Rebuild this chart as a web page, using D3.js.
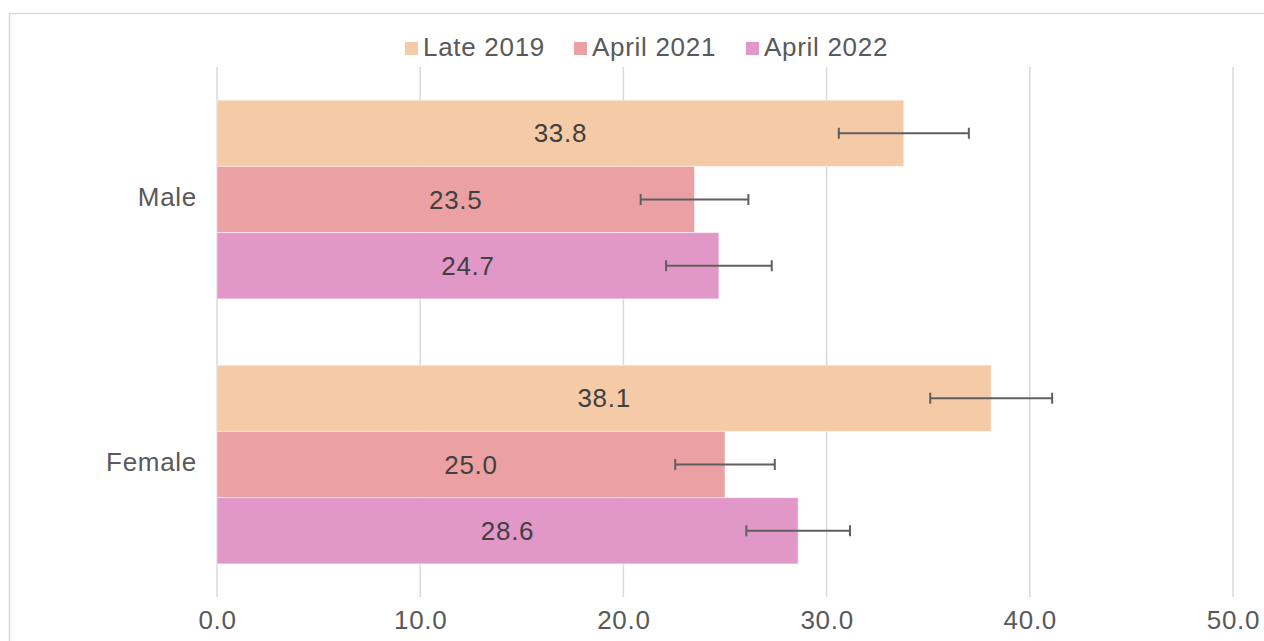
<!DOCTYPE html>
<html>
<head>
<meta charset="utf-8">
<script src="https://cdn.jsdelivr.net/npm/d3@7"></script>
<style>
  html, body { margin: 0; padding: 0; background: #fff; }
  svg { display: block; }
  text { font-family: "Liberation Sans", Arial, Helvetica, sans-serif; letter-spacing: 0.7px; }
</style>
</head>
<body>
<svg id="chart" width="1264" height="641"></svg>
<script>
const categories = ["Male", "Female"];
const seriesNames = ["Late 2019", "April 2021", "April 2022"];
const seriesColors = ["#F5CBA7", "#EBA1A4", "#E197C8"];
const late2019 = [33.8, 38.1];
const april2021 = [23.5, 25.0];
const april2022 = [24.7, 28.6];
const late2019Err = [3.2, 3.0];
const april2021Err = [2.65, 2.45];
const april2022Err = [2.6, 2.55];
const xTicks = [0, 10, 20, 30, 40, 50];

const seriesValues = [late2019, april2021, april2022];
const seriesErr = [late2019Err, april2021Err, april2022Err];

const svg = d3.select("#chart");
const textColor = "#595959";
const fontSize = 26;

// outer frame
svg.append("rect")
  .attr("x", 9.5).attr("y", 13.5)
  .attr("width", 1300).attr("height", 700)
  .attr("fill", "none").attr("stroke", "#d9d9d9").attr("stroke-width", 1.5);

const x = d3.scaleLinear().domain([0, 50]).range([217, 1233]);
const y = d3.scaleBand().domain(categories).range([67, 597])
  .paddingInner(0.25).paddingOuter(0.125);
const ySub = d3.scaleBand().domain(seriesNames).range([0, y.bandwidth()]);

// gridlines
svg.append("g").selectAll("line").data(xTicks).join("line")
  .attr("x1", d => x(d)).attr("x2", d => x(d))
  .attr("y1", 67).attr("y2", 597)
  .attr("stroke", "#d9d9d9").attr("stroke-width", 1.5);

// x axis labels
const xAxis = d3.axisBottom(x).tickValues(xTicks).tickFormat(d3.format(".1f")).tickSize(0).tickPadding(0);
const gx = svg.append("g").attr("transform", "translate(0,597)").call(xAxis);
gx.select(".domain").remove();
gx.selectAll("text")
  .attr("y", 32).attr("dy", "0")
  .attr("fill", textColor).attr("font-size", fontSize)
  .attr("font-family", "Liberation Sans, Arial, sans-serif");

// y axis labels
const yAxis = d3.axisLeft(y).tickSize(0).tickPadding(20);
const gy = svg.append("g").attr("transform", "translate(217,0)").call(yAxis);
gy.select(".domain").remove();
gy.selectAll("text")
  .attr("y", -2)
  .attr("fill", textColor).attr("font-size", fontSize)
  .attr("font-family", "Liberation Sans, Arial, sans-serif");

// bars
const data = [];
seriesNames.forEach((s, si) => {
  categories.forEach((c, ci) => {
    data.push({ series: s, si, cat: c, value: seriesValues[si][ci], err: seriesErr[si][ci] });
  });
});

const barG = svg.append("g");
barG.selectAll("rect").data(data).join("rect")
  .attr("x", x(0))
  .attr("y", d => y(d.cat) + ySub(d.series))
  .attr("width", d => x(d.value) - x(0))
  .attr("height", ySub.bandwidth())
  .attr("fill", d => seriesColors[d.si])
  .attr("stroke", "#ffffff").attr("stroke-opacity", 0.5).attr("stroke-width", 1);

// labels
barG.selectAll("text.lbl").data(data).join("text")
  .attr("class", "lbl")
  .attr("x", d => (x(0) + x(d.value)) / 2)
  .attr("y", d => y(d.cat) + ySub(d.series) + ySub.bandwidth() / 2)
  .attr("dy", "0.35em")
  .attr("text-anchor", "middle")
  .attr("fill", "#404040").attr("font-size", fontSize)
  .text(d => d3.format(".1f")(d.value));

// error bars
const errG = svg.append("g").attr("stroke", "#5f5f5f").attr("stroke-width", 2);
data.forEach(d => {
  const cy = y(d.cat) + ySub(d.series) + ySub.bandwidth() / 2;
  const x1 = x(d.value - d.err), x2 = x(d.value + d.err);
  errG.append("line").attr("x1", x1).attr("x2", x2).attr("y1", cy).attr("y2", cy);
  errG.append("line").attr("x1", x1).attr("x2", x1).attr("y1", cy - 5.5).attr("y2", cy + 5.5);
  errG.append("line").attr("x1", x2).attr("x2", x2).attr("y1", cy - 5.5).attr("y2", cy + 5.5);
});

// legend
const legendX = [405, 574, 746];
const lg = svg.append("g");
seriesNames.forEach((s, i) => {
  lg.append("rect").attr("x", legendX[i]).attr("y", 42).attr("width", 13).attr("height", 13)
    .attr("fill", seriesColors[i]);
  lg.append("text").attr("x", legendX[i] + 18).attr("y", 56)
    .attr("fill", textColor).attr("font-size", fontSize).text(s);
});
</script>
</body>
</html>
